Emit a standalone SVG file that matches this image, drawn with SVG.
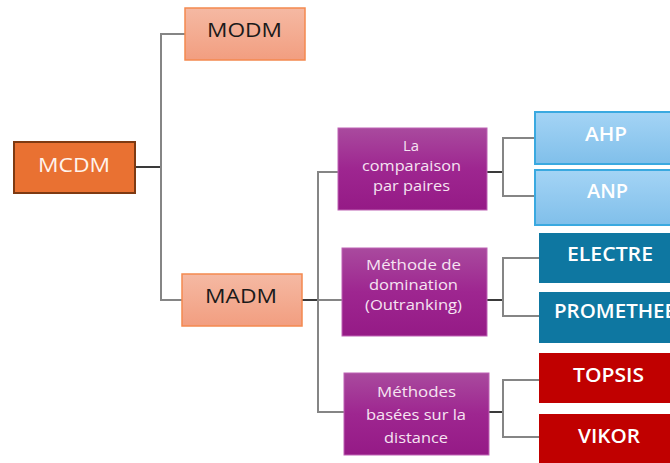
<svg xmlns="http://www.w3.org/2000/svg" width="670" height="463" viewBox="0 0 670 463">
<defs>
<linearGradient id="gSalmon" x1="0" y1="0" x2="0" y2="1"><stop offset="0" stop-color="#F5B9A3"/><stop offset="1" stop-color="#F29E80"/></linearGradient>
<linearGradient id="gPurple" x1="0" y1="0" x2="0" y2="1"><stop offset="0" stop-color="#A94A9E"/><stop offset="0.5" stop-color="#9E2690"/><stop offset="1" stop-color="#951A86"/></linearGradient>
<linearGradient id="gBlue" x1="0" y1="0" x2="0" y2="1"><stop offset="0" stop-color="#A4D4F5"/><stop offset="1" stop-color="#80BFEA"/></linearGradient>
</defs>
<style>
text{font-family:"Open Sans","Liberation Sans",sans-serif;text-anchor:middle}
.salmon{fill:url(#gSalmon);stroke:#F4894F;stroke-width:1.5}
.purple{fill:url(#gPurple);stroke:#BE62B4;stroke-width:1}
.blue{fill:url(#gBlue);stroke:#3AA9E0;stroke-width:2}
.teal{fill:#0E77A1}
.red{fill:#C00000}
.big{font-size:20px}
.mid{font-size:19px;fill:#FFFFFF;font-weight:600}
.small{font-size:14px;fill:#F6E4F2}
.dark{fill:#1A1A1A}
.c1{fill:none;stroke:#858585;stroke-width:2}
.c2{fill:none;stroke:#3A3A3A;stroke-width:2}
</style>
<g id="connectors">
<path class="c2" d="M135 167H161"/>
<path class="c1" d="M185 34H161V300H182"/>
<path class="c2" d="M302 300H318"/>
<path class="c1" d="M338 172H318V412H344M318 300H342"/>
<path class="c2" d="M487 172H503M487 300H503M489 412H503"/>
<path class="c1" d="M535 138H503V196H535M539 258H503V316H539M539 380H503V437H539"/>
</g>
<g id="MCDM">
<rect x="14" y="142" width="121" height="51" fill="#E97132" stroke="#7E3A12" stroke-width="2"/>
<text x="74" y="172" class="big" fill="#FFF3EC" textLength="72" lengthAdjust="spacingAndGlyphs">MCDM</text>
</g>
<g id="MODM">
<rect x="185" y="8" width="120" height="52" class="salmon"/>
<text x="244.5" y="37" class="big dark" textLength="75" lengthAdjust="spacingAndGlyphs">MODM</text>
</g>
<g id="MADM">
<rect x="182" y="274" width="120" height="52" class="salmon"/>
<text x="241" y="303" class="big dark" textLength="72" lengthAdjust="spacingAndGlyphs">MADM</text>
</g>
<g id="comparaison">
<rect x="338" y="128" width="149" height="82" class="purple"/>
<text x="411" y="151" class="small" textLength="16" lengthAdjust="spacingAndGlyphs">La</text>
<text x="411.5" y="171" class="small" textLength="99" lengthAdjust="spacingAndGlyphs">comparaison</text>
<text x="411.5" y="191" class="small" textLength="77" lengthAdjust="spacingAndGlyphs">par paires</text>
</g>
<g id="domination">
<rect x="342" y="248" width="145" height="88" class="purple"/>
<text x="413.5" y="270" class="small" textLength="95" lengthAdjust="spacingAndGlyphs">Méthode de</text>
<text x="413.5" y="290" class="small" textLength="89" lengthAdjust="spacingAndGlyphs">domination</text>
<text x="413.5" y="310" class="small" textLength="97" lengthAdjust="spacingAndGlyphs">(Outranking)</text>
</g>
<g id="distance">
<rect x="344" y="373" width="145" height="82" class="purple"/>
<text x="416.5" y="397" class="small" textLength="79" lengthAdjust="spacingAndGlyphs">Méthodes</text>
<text x="416" y="420" class="small" textLength="100" lengthAdjust="spacingAndGlyphs">basées sur la</text>
<text x="416" y="443" class="small" textLength="64" lengthAdjust="spacingAndGlyphs">distance</text>
</g>
<g id="AHP">
<rect x="535" y="112" width="145" height="52" class="blue"/>
<text x="606" y="141" class="mid" textLength="42" lengthAdjust="spacingAndGlyphs">AHP</text>
</g>
<g id="ANP">
<rect x="535" y="170" width="145" height="55" class="blue"/>
<text x="607.5" y="198" class="mid" textLength="41" lengthAdjust="spacingAndGlyphs">ANP</text>
</g>
<g id="ELECTRE">
<rect x="539" y="233" width="141" height="50" class="teal"/>
<text x="610" y="261" class="mid" textLength="86" lengthAdjust="spacingAndGlyphs">ELECTRE</text>
</g>
<g id="PROMETHEE">
<rect x="539" y="292" width="141" height="51" class="teal"/>
<text x="554" y="318" class="mid" style="text-anchor:start" textLength="122" lengthAdjust="spacingAndGlyphs">PROMETHEE</text>
</g>
<g id="TOPSIS">
<rect x="539" y="353" width="141" height="50" class="red"/>
<text x="608.5" y="382" class="mid" textLength="71" lengthAdjust="spacingAndGlyphs">TOPSIS</text>
</g>
<g id="VIKOR">
<rect x="539" y="414" width="141" height="55" class="red"/>
<text x="609" y="443" class="mid" textLength="62" lengthAdjust="spacingAndGlyphs">VIKOR</text>
</g>
</svg>
